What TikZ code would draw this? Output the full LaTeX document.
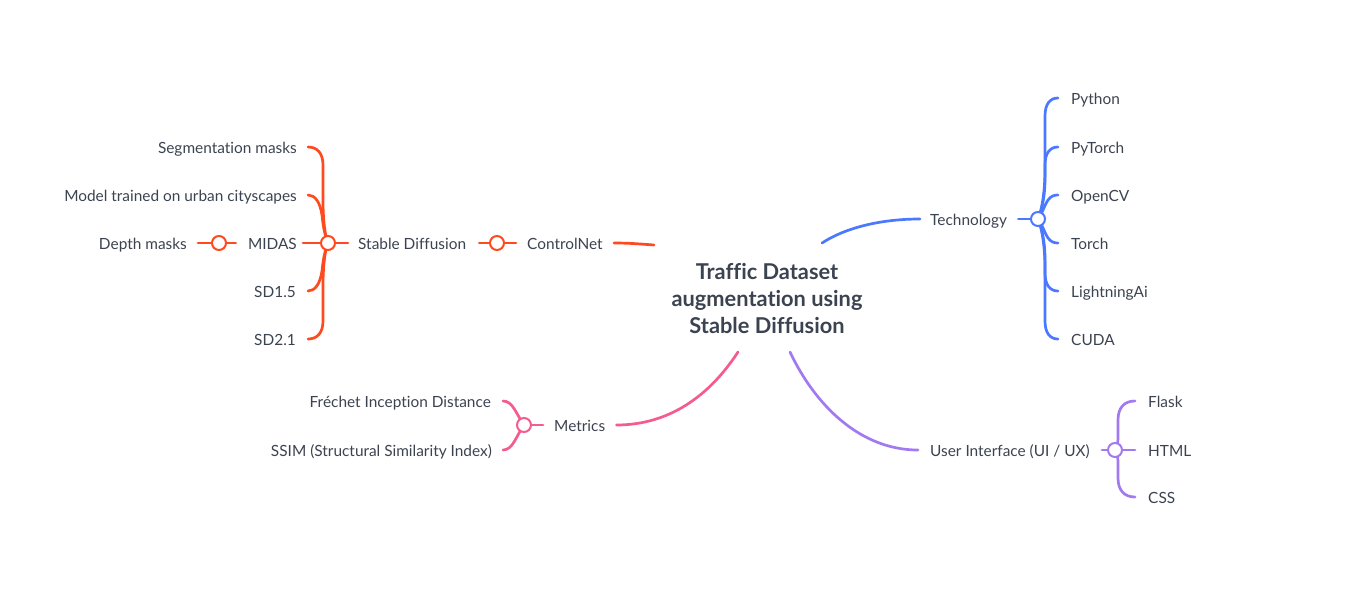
\documentclass[tikz,border=0pt]{standalone}
\usepackage{fontspec}
\setmainfont{Lato}[Ligatures=NoCommon]
\definecolor{cor}{HTML}{FF4A1F}
\definecolor{cbl}{HTML}{4A78FF}
\definecolor{cpk}{HTML}{F45C8F}
\definecolor{cpu}{HTML}{A27AF0}
\definecolor{ctx}{HTML}{3B4350}
\begin{document}
\begin{tikzpicture}[x=1pt,y=-1pt,
  lbl/.style={inner sep=0pt, text height=11pt, text depth=3pt, yshift=-2pt, font=\fontsize{15.4}{18}\selectfont, text=ctx},
  knot/.style={circle, draw, line width=2pt, fill=white, minimum size=14pt, inner sep=0pt},
  br/.style={line width=2.7pt, line cap=round},
  title/.style={inner sep=0pt, align=center, text=ctx, font=\bfseries\fontsize{21.8}{27}\selectfont}]
\useasboundingbox (0,0) rectangle (1372,600);
% title
\node[title] (root) at (767,298) {Traffic Dataset\\augmentation using\\Stable Diffusion};
\coordinate (ro) at (654,245);
\coordinate (rb) at (822,243);
\coordinate (rp) at (738,352);
\coordinate (ru) at (790,352);
% ---------- orange ----------
\node[lbl, anchor=west] (cn) at (527,243) {ControlNet};
\node[lbl, anchor=west] (sd) at (358,243) {Stable Diffusion};
\node[lbl, anchor=east] (sm) at (297,147) {Segmentation masks};
\node[lbl, anchor=east] (mt) at (297,195) {Model trained on urban cityscapes};
\node[lbl, anchor=east] (mi) at (297,243) {MIDAS};
\node[lbl, anchor=east] (s15) at (296,291) {SD1.5};
\node[lbl, anchor=east] (s21) at (296,339) {SD2.1};
\node[lbl, anchor=east] (dm) at (187,243) {Depth masks};
\coordinate (pcn) at (497,243);
\coordinate (psd) at (328,243);
\coordinate (pdm) at (219,243);
\draw[br, cor] ([xshift=11pt,yshift=2pt]cn.east) .. controls (630,243) and (640,244) .. (ro);
\draw[br, cor] ([xshift=13pt,yshift=2pt]sd.east) -- (pcn) -- ([xshift=-11pt,yshift=2pt]cn.west);
\draw[br, cor] ([xshift=-10pt,yshift=2pt]sd.west) -- (psd) -- ([xshift=6pt,yshift=2pt]mi.east);
\draw[br, cor] ([xshift=-12pt,yshift=2pt]mi.west) -- (pdm) -- ([xshift=11pt,yshift=2pt]dm.east);
\draw[br, cor] (psd) .. controls (325,236) and (323,220) .. (323,200) -- (323,165) .. controls (323,153) and (317,147) .. ([xshift=11pt,yshift=2pt]sm.east);
\draw[br, cor] (psd) .. controls (325,236) and (323,226) .. (322,215) .. controls (320,202) and (315,195) .. ([xshift=11pt,yshift=2pt]mt.east);
\draw[br, cor] (psd) .. controls (325,250) and (323,260) .. (322,271) .. controls (320,284) and (315,291) .. ([xshift=12pt,yshift=2pt]s15.east);
\draw[br, cor] (psd) .. controls (325,250) and (323,266) .. (323,286) -- (323,321) .. controls (323,333) and (317,339) .. ([xshift=12pt,yshift=2pt]s21.east);
\node[knot, draw=cor] (kcn) at (pcn) {};
\node[knot, draw=cor] (ksd) at (psd) {};
\node[knot, draw=cor] (kdm) at (pdm) {};
% ---------- blue ----------
\node[lbl, anchor=west] (tech) at (930,219) {Technology};
\node[lbl, anchor=west] (py) at (1071,98) {Python};
\node[lbl, anchor=west] (pt) at (1071,147) {PyTorch};
\node[lbl, anchor=west] (cv) at (1071,195) {OpenCV};
\node[lbl, anchor=west] (to) at (1071,243) {Torch};
\node[lbl, anchor=west] (li) at (1071,291) {LightningAi};
\node[lbl, anchor=west] (cu) at (1071,339) {CUDA};
\coordinate (pte) at (1038,219);
\draw[br, cbl] (rb) .. controls (845,228) and (880,219) .. ([xshift=-10pt,yshift=2pt]tech.west);
\draw[br, cbl] ([xshift=11pt,yshift=2pt]tech.east) -- (pte);
\draw[br, cbl] (pte) .. controls (1042,210) and (1045,190) .. (1045,170) -- (1045,116) .. controls (1045,104) and (1050,98) .. ([xshift=-13pt,yshift=2pt]py.west);
\draw[br, cbl] (pte) .. controls (1042,210) and (1045,195) .. (1045,180) -- (1045,165) .. controls (1045,153) and (1050,147) .. ([xshift=-13pt,yshift=2pt]pt.west);
\draw[br, cbl] (pte) .. controls (1043,212) and (1045,204) .. (1048,200) .. controls (1051,196) and (1054,195) .. ([xshift=-13pt,yshift=2pt]cv.west);
\draw[br, cbl] (pte) .. controls (1043,226) and (1045,234) .. (1048,238) .. controls (1051,242) and (1054,243) .. ([xshift=-13pt,yshift=2pt]to.west);
\draw[br, cbl] (pte) .. controls (1042,228) and (1045,243) .. (1045,258) -- (1045,273) .. controls (1045,285) and (1050,291) .. ([xshift=-13pt,yshift=2pt]li.west);
\draw[br, cbl] (pte) .. controls (1042,228) and (1045,248) .. (1045,268) -- (1045,321) .. controls (1045,333) and (1050,339) .. ([xshift=-13pt,yshift=2pt]cu.west);
\node[knot, draw=cbl] (kte) at (pte) {};
% ---------- pink ----------
\node[lbl, anchor=west] (me) at (554,425) {Metrics};
\node[lbl, anchor=east] (fr) at (491,401) {Fréchet Inception Distance};
\node[lbl, anchor=east] (ss) at (492,450) {SSIM (Structural Similarity Index)};
\coordinate (pme) at (524,425);
\draw[br, cpk] (rp) .. controls (710,395) and (670,425) .. ([xshift=11pt,yshift=2pt]me.east);
\draw[br, cpk] ([xshift=-11pt,yshift=2pt]me.west) -- (pme);
\draw[br, cpk] (pme) .. controls (516,414) and (513,401) .. ([xshift=12pt,yshift=2pt]fr.east);
\draw[br, cpk] (pme) .. controls (516,436) and (513,450) .. ([xshift=11pt,yshift=2pt]ss.east);
\node[knot, draw=cpk] (kme) at (pme) {};
% ---------- purple ----------
\node[lbl, anchor=west] (ui) at (930,450) {User Interface (UI / UX)};
\node[lbl, anchor=west] (fl) at (1148,401) {Flask};
\node[lbl, anchor=west] (ht) at (1148,450) {HTML};
\node[lbl, anchor=west] (cs) at (1148,497) {CSS};
\coordinate (pui) at (1115,450);
\draw[br, cpu] (ru) .. controls (815,405) and (860,450) .. ([xshift=-12pt,yshift=2pt]ui.west);
\draw[br, cpu] ([xshift=12pt,yshift=2pt]ui.east) -- (pui) -- ([xshift=-13pt,yshift=2pt]ht.west);
\draw[br, cpu] (pui) .. controls (1118,444) .. (1118,432) -- (1118,420) .. controls (1118,408) and (1124,401) .. ([xshift=-13pt,yshift=2pt]fl.west);
\draw[br, cpu] (pui) .. controls (1118,456) .. (1118,468) -- (1118,478) .. controls (1118,490) and (1124,497) .. ([xshift=-13pt,yshift=2pt]cs.west);
\node[knot, draw=cpu] (kui) at (pui) {};
\end{tikzpicture}
\end{document}
